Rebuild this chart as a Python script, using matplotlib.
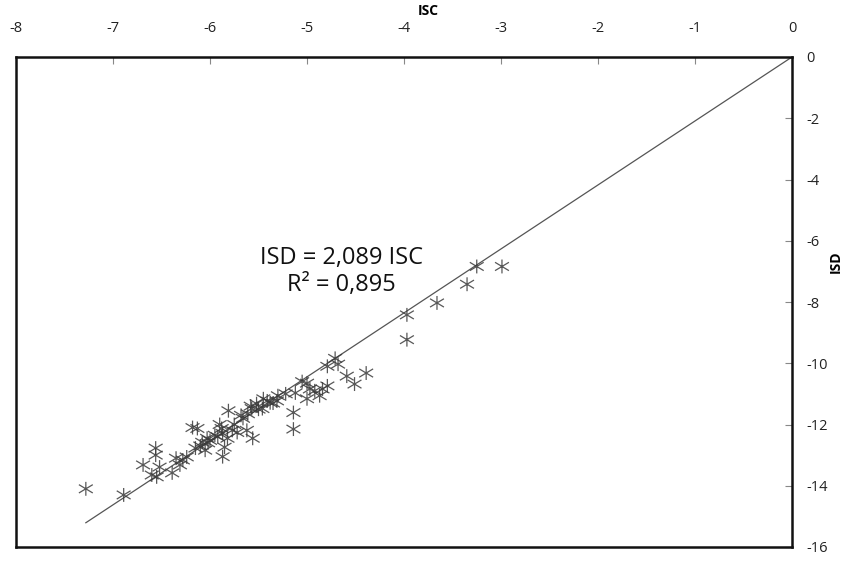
import matplotlib
matplotlib.use("Agg")
import matplotlib.pyplot as plt
import numpy as np
from matplotlib.path import Path

plt.rcParams['font.family'] = ['Open Sans', 'DejaVu Sans']

# Data (ISC, ISD)
isc = [-7.28, -6.89, -6.69, -6.60, -6.56, -6.56, -6.55, -6.52, -6.39, -6.31,
       -6.28, -6.24, -6.18, -6.13, -6.15, -6.08, -6.05, -6.03, -6.00, -5.88,
       -5.87, -5.82, -5.85, -5.87, -5.81, -5.77, -5.72, -5.62, -5.61, -5.56,
       -5.57, -5.52, -5.46, -5.41, -5.31, -5.38, -5.45, -5.30, -5.14, -5.12,
       -5.14, -5.00, -5.00, -4.97, -4.87, -4.84, -4.79, -4.79, -4.71, -4.68,
       -4.59, -4.51, -4.39, -3.97, -3.97, -3.66, -3.35, -3.25, -2.99,
       -5.90, -5.95, -6.10, -5.66, -5.50, -5.58, -5.22, -6.02, -5.92, -5.75,
       -5.68, -6.35, -5.35, -5.05, -4.92]
isd = [-14.10, -14.30, -13.32, -13.65, -12.77, -13.00, -13.71, -13.39, -13.58, -13.32,
       -13.16, -13.06, -12.10, -12.13, -12.77, -12.58, -12.84, -12.45, -12.52, -12.13,
       -12.29, -12.45, -12.74, -13.05, -11.55, -12.19, -12.26, -12.19, -11.65, -12.45,
       -11.48, -11.32, -11.48, -11.23, -11.23, -11.29, -11.16, -11.06, -11.61, -10.97,
       -12.15, -11.16, -10.65, -10.84, -11.06, -10.84, -10.74, -10.10, -9.84, -10.03,
       -10.42, -10.68, -10.32, -8.42, -9.23, -8.03, -7.42, -6.84, -6.84,
       -12.00, -12.35, -12.70, -11.80, -11.50, -11.40, -11.00, -12.60, -12.40, -12.00,
       -11.70, -13.10, -11.30, -10.60, -10.90]

slope = 2.089
r2 = 0.895
trend_x = [min(isc), 0.0]

xticks = [-8, -7, -6, -5, -4, -3, -2, -1, 0]
yticks = [0, -2, -4, -6, -8, -10, -12, -14, -16]

fig = plt.figure(figsize=(8.46, 5.64), dpi=100)
ax = fig.add_axes([16/846, 1-547/564, (792-16)/846, (547-57)/564])

# custom star marker: X plus vertical line
verts = [(0, -1), (0, 1), (-1, -0.6), (1, 0.6), (-1, 0.6), (1, -0.6)]
codes = [Path.MOVETO, Path.LINETO, Path.MOVETO, Path.LINETO, Path.MOVETO, Path.LINETO]
star = Path(verts, codes)

tx = np.array(trend_x)
ax.plot(tx, slope * tx, color='#555555', linewidth=0.9, zorder=2)
ax.scatter(isc, isd, marker=star, s=100, facecolors='none', edgecolors='#3a3a3a',
           linewidths=0.9, alpha=0.85, zorder=3)

ax.set_xlim(-8, 0)
ax.set_ylim(-16, 0)
ax.set_xticks(xticks)
ax.set_yticks(yticks)
ax.set_xticklabels([str(t) for t in xticks])
ax.set_yticklabels([str(t) for t in yticks])
ax.xaxis.tick_top()
ax.yaxis.tick_right()
ax.tick_params(axis='x', direction='in', length=5, width=0.8, color='#888888',
               pad=15, labelsize=10.5, labelcolor='#222222')
ax.tick_params(axis='y', direction='in', length=5, width=0.8, color='#888888',
               pad=10, labelsize=10.5, labelcolor='#222222')
for s in ax.spines.values():
    s.set_linewidth(1.8)
    s.set_color('#111111')

fig.text(428/846, 1-11/564, 'ISC', ha='center', va='center', fontsize=10, fontweight='bold')
fig.text(836/846, 1-262/564, 'ISD', ha='center', va='center', rotation=90,
         fontsize=10, fontweight='bold')

fig.text(341/846, 1-258/564, 'ISD = 2,089 ISC', ha='center', va='center',
         fontsize=17, color='#111111')
fig.text(341/846, 1-285/564, 'R² = 0,895', ha='center', va='center',
         fontsize=17, color='#111111')

fig.savefig('out.png', dpi=100)
